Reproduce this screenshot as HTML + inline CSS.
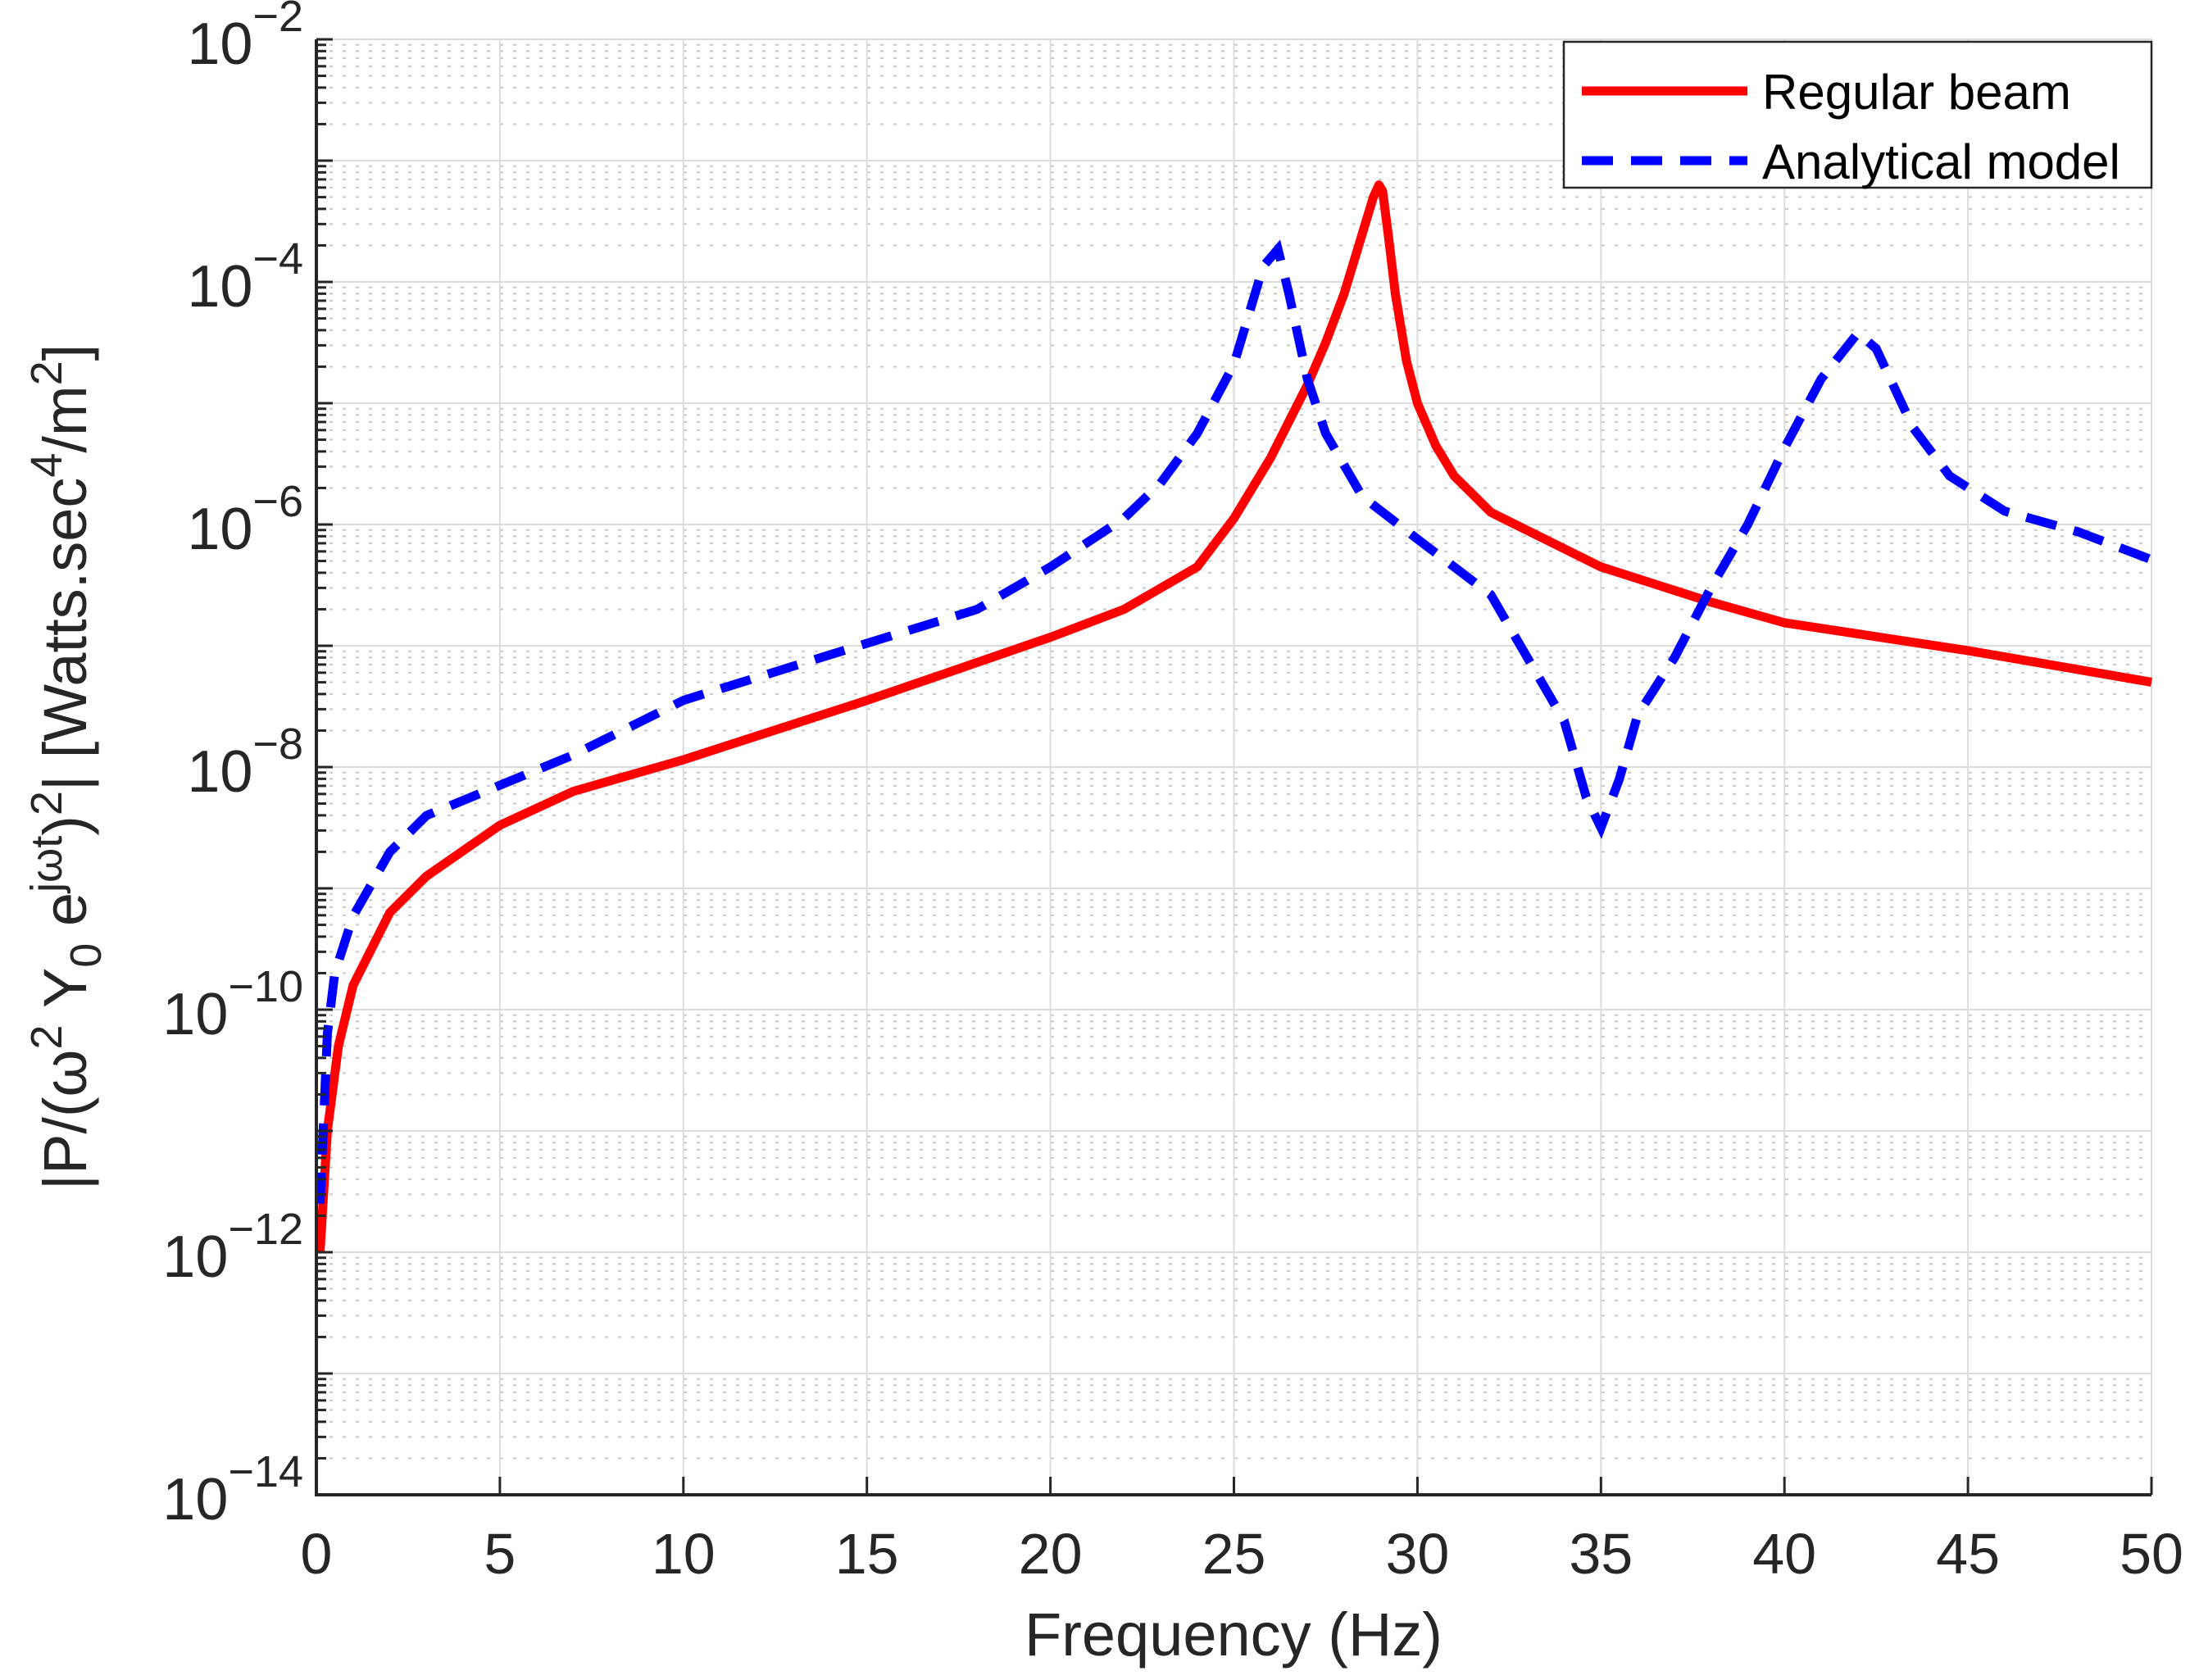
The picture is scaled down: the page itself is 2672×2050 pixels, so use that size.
<!DOCTYPE html>
<html><head><meta charset="utf-8"><style>
html,body{margin:0;padding:0;background:#fff;}
svg{display:block;font-family:"Liberation Sans",Arial,sans-serif;}
</style></head><body>
<svg id="chart" width="2672" height="2050" xmlns="http://www.w3.org/2000/svg">
<g id="grid"></g>
<g id="series"></g>
<g id="axes"></g>
<text x="1505" y="2020" font-size="74" text-anchor="middle" fill="#262626">Frequency (Hz)</text>
<text transform="translate(105,936) rotate(-90)" font-size="74" text-anchor="middle" fill="#262626">|P/(ω<tspan font-size="54" dy="-30">2</tspan><tspan dy="30"> Y</tspan><tspan font-size="54" dy="18">0</tspan><tspan dy="-18"> e</tspan><tspan font-size="54" dy="-30">jωt</tspan><tspan dy="30">)</tspan><tspan font-size="54" dy="-30">2</tspan><tspan dy="30">| [Watts.sec</tspan><tspan font-size="54" dy="-30">4</tspan><tspan dy="30">/m</tspan><tspan font-size="54" dy="-30">2</tspan><tspan dy="30">]</tspan></text>
<g>
<rect x="1908" y="51" width="717" height="178" fill="#fff" stroke="#262626" stroke-width="2.5"/>
<line x1="1930" y1="111" x2="2132" y2="111" stroke="#ff0000" stroke-width="11"/>
<text x="2150" y="133" font-size="60" fill="#000">Regular beam</text>
<line x1="1930" y1="196" x2="2132" y2="196" stroke="#0000ff" stroke-width="11" stroke-dasharray="38,22"/>
<text x="2150" y="218" font-size="60" fill="#000">Analytical model</text>
</g>
</svg>
<script>
const xTicks=[0,5,10,15,20,25,30,35,40,45,50];
const yDecades=[-14,-13,-12,-11,-10,-9,-8,-7,-6,-5,-4,-3,-2];
const yLabelExps=[-14,-12,-10,-8,-6,-4,-2];
const regularF=[0.1,0.3,0.6,1,2,3,5,7,10,15,20,22,24,25,26,27,27.5,28,28.3,28.6,28.8,28.95,29.05,29.2,29.4,29.7,30,30.5,31,32,35,38,40,45,50];
const regularLog=[-12,-11,-10.3,-9.8,-9.2,-8.9,-8.48,-8.2,-7.94,-7.45,-6.93,-6.7,-6.35,-5.95,-5.45,-4.85,-4.5,-4.1,-3.8,-3.5,-3.3,-3.2,-3.25,-3.6,-4.1,-4.65,-5.0,-5.35,-5.6,-5.9,-6.35,-6.64,-6.81,-7.04,-7.3];
const analyticalF=[0.1,0.3,0.5,1,2,3,5,7,10,15,18,20,22,23,24,25,25.8,26.2,26.5,27,27.5,28.5,30,32,33,34,34.6,35,35.5,36,37,38,39,40,41,42,42.5,43.5,44.5,46,48,50];
const analyticalLog=[-11.6,-10.2,-9.7,-9.23,-8.7,-8.4,-8.15,-7.9,-7.45,-6.98,-6.7,-6.35,-5.95,-5.66,-5.25,-4.68,-3.87,-3.73,-4.1,-4.8,-5.25,-5.77,-6.12,-6.58,-7.1,-7.62,-8.25,-8.5,-8.1,-7.57,-7.1,-6.52,-6.0,-5.37,-4.8,-4.42,-4.55,-5.2,-5.6,-5.89,-6.06,-6.29];
const X0=386,X1=2625,Y0=48,Y1=1824;
const NS="http://www.w3.org/2000/svg";
function xs(f){return X0+(f/50)*(X1-X0);}
function ys(l){return Y0+(-2-l)/12*(Y1-Y0);}
function mk(tag,attrs,parent){const e=document.createElementNS(NS,tag);for(const k in attrs)e.setAttribute(k,attrs[k]);parent.appendChild(e);return e;}
const grid=document.getElementById('grid'),axes=document.getElementById('axes'),series=document.getElementById('series');
yDecades.forEach(d=>{
  let l=mk('line',{x1:X0,x2:X1,y1:ys(d),y2:ys(d),stroke:'#dcdcdc','stroke-width':2},grid);
  
  
  let t=mk('line',{x1:X0,x2:X0+20,y1:ys(d),y2:ys(d),stroke:'#262626','stroke-width':3},axes);
  
  
  if(d<-2){for(let m=2;m<=9;m++){const y=ys(d+Math.log10(m));
    let g=mk('line',{x1:X0,x2:X1,y1:y,y2:y,stroke:'#c8c8c8','stroke-width':2,'stroke-dasharray':'4,12'},grid);
    
    
    let mt=mk('line',{x1:X0,x2:X0+12,y1:y,y2:y,stroke:'#262626','stroke-width':3},axes);
    
    
  }}
});
xTicks.forEach(v=>{
  let g=mk('line',{x1:xs(v),x2:xs(v),y1:Y0,y2:Y1,stroke:'#dcdcdc','stroke-width':2},grid);
  
  
  let t=mk('line',{x1:xs(v),x2:xs(v),y1:Y1,y2:Y1-22,stroke:'#262626','stroke-width':3},axes);
  
  
  let tx=mk('text',{x:xs(v),y:Y1+96,'font-size':70,'text-anchor':'middle',fill:'#262626'},axes);
  tx.textContent=v;
  
  
});
yLabelExps.forEach(e=>{
  const y=ys(e);
  let tx=mk('text',{x:X0-16,y:y+30,'font-size':72,'text-anchor':'end',fill:'#262626'},axes);
  tx.innerHTML='10<tspan font-size="54" dy="-40">−'+Math.abs(e)+'</tspan>';
  
  
});
let frame=mk('path',{d:`M${X0},${Y0} L${X0},${Y1} L${X1},${Y1}`,fill:'none',stroke:'#262626','stroke-width':4},axes);


function path(F,L){return F.map((f,i)=>(i?'L':'M')+xs(f).toFixed(1)+','+ys(L[i]).toFixed(1)).join(' ');}
let red=mk('path',{d:path(regularF,regularLog),fill:'none',stroke:'#ff0000','stroke-width':11,'stroke-linejoin':'round'},series);


let blue=mk('path',{d:path(analyticalF,analyticalLog),fill:'none',stroke:'#0000ff','stroke-width':11,'stroke-dasharray':'38,22'},series);


</script>
</body></html>
